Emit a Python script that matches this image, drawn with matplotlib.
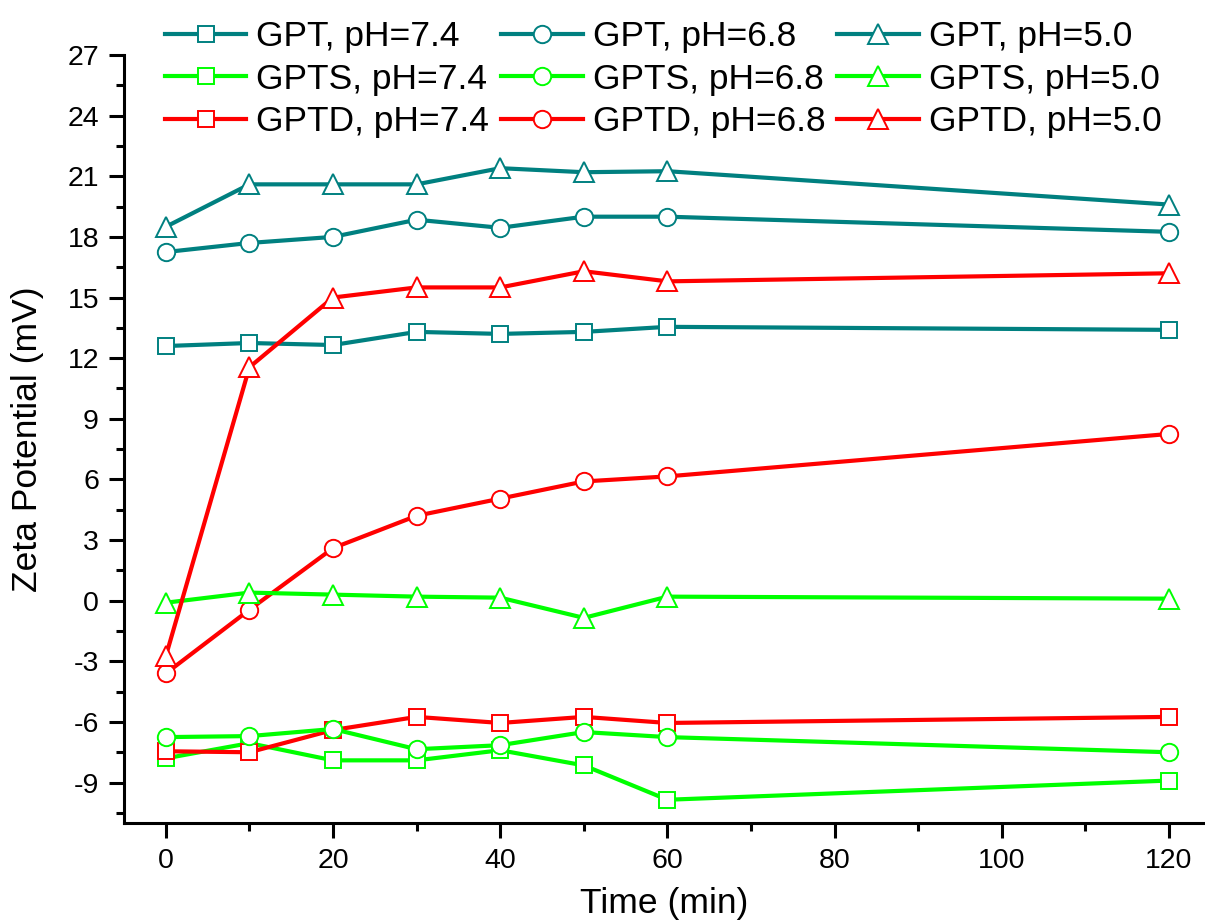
import numpy as np
import matplotlib
matplotlib.use("Agg")
import matplotlib.pyplot as plt
from matplotlib.ticker import MultipleLocator

plt.rcParams['font.family'] = ['Liberation Sans', 'DejaVu Sans']
plt.rcParams['axes.unicode_minus'] = False

time_min = [0, 10, 20, 30, 40, 50, 60, 120]

# zeta potential (mV) per sample and pH
gpt_74 = [12.6, 12.75, 12.65, 13.3, 13.2, 13.3, 13.55, 13.4]
gpt_68 = [17.25, 17.7, 18.0, 18.85, 18.45, 19.0, 19.0, 18.25]
gpt_50 = [18.5, 20.6, 20.6, 20.6, 21.4, 21.2, 21.25, 19.6]
gpts_74 = [-7.8, -7.05, -7.9, -7.9, -7.4, -8.15, -9.85, -8.9]
gpts_68 = [-6.75, -6.7, -6.35, -7.35, -7.15, -6.5, -6.75, -7.5]
gpts_50 = [-0.1, 0.4, 0.3, 0.2, 0.15, -0.85, 0.2, 0.1]
gptd_74 = [-7.45, -7.5, -6.4, -5.75, -6.05, -5.75, -6.05, -5.75]
gptd_68 = [-3.6, -0.45, 2.6, 4.2, 5.05, 5.9, 6.15, 8.25]
gptd_50 = [-2.75, 11.55, 15.0, 15.5, 15.5, 16.3, 15.8, 16.2]

teal = '#008080'
green = '#00ff00'
red = '#ff0000'

# ordered column by column so the 3-column legend reads row-wise by sample
series = [
    (gpt_74, teal, 's', 'GPT, pH=7.4'),
    (gpts_74, green, 's', 'GPTS, pH=7.4'),
    (gptd_74, red, 's', 'GPTD, pH=7.4'),
    (gpt_68, teal, 'o', 'GPT, pH=6.8'),
    (gpts_68, green, 'o', 'GPTS, pH=6.8'),
    (gptd_68, red, 'o', 'GPTD, pH=6.8'),
    (gpt_50, teal, '^', 'GPT, pH=5.0'),
    (gpts_50, green, '^', 'GPTS, pH=5.0'),
    (gptd_50, red, '^', 'GPTD, pH=5.0'),
]
msizes = {'s': 11.5, 'o': 12.5, '^': 14}

fig = plt.figure(figsize=(12.05, 9.22), dpi=100)
ax = fig.add_axes([124 / 1205, 99 / 922, 1081 / 1205, 768 / 922])

handles = []
for vals, col, mk, lab in series:
    h, = ax.plot(time_min, vals, color=col, lw=3, marker=mk,
                 markersize=msizes[mk], markerfacecolor='white',
                 markeredgecolor=col, markeredgewidth=1.4, label=lab)
    handles.append(h)

ax.set_xlim(-5, 124.3)
ax.set_ylim(-11, 27)
ax.xaxis.set_major_locator(MultipleLocator(20))
ax.xaxis.set_minor_locator(MultipleLocator(10))
ax.yaxis.set_major_locator(MultipleLocator(3))
ax.yaxis.set_minor_locator(MultipleLocator(1.5))

for side in ['top', 'right']:
    ax.spines[side].set_visible(False)
for side in ['left', 'bottom']:
    ax.spines[side].set_linewidth(2.2)

ax.tick_params(which='major', direction='out', length=11, width=2.2,
               labelsize=20.5, pad=7)
ax.tick_params(which='minor', direction='out', length=5.5, width=2.2)

ax.set_xlabel('Time (min)', fontsize=25.5, labelpad=9)
ax.set_ylabel('Zeta Potential (mV)', fontsize=25.5, labelpad=17)

fig.legend(handles=handles, loc='upper left', bbox_to_anchor=(165 / 1205, 0.978),
           ncol=3, frameon=False, fontsize=25.5, handlelength=2.3,
           handletextpad=0.28, columnspacing=0.34, labelspacing=0.27,
           borderpad=0, borderaxespad=0)

fig.savefig('out.png', dpi=100)
